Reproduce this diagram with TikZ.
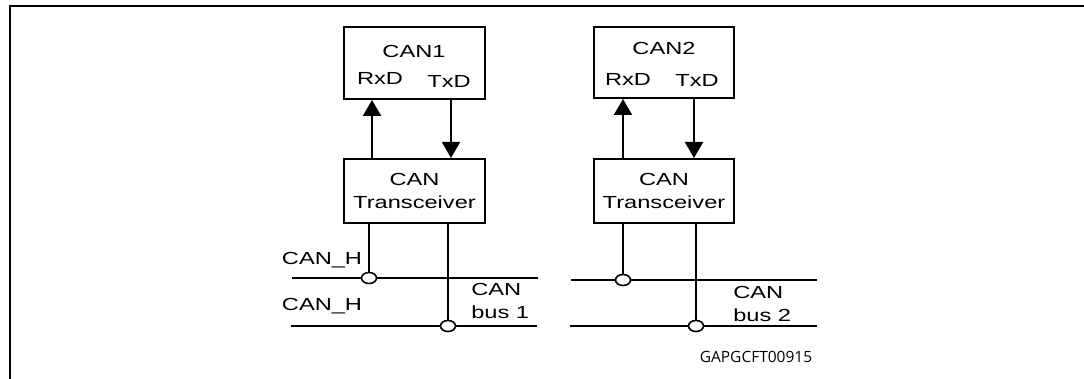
\documentclass[tikz,border=0pt]{standalone}
\usepackage{fontspec}
\setmainfont{Liberation Sans}
\newfontfamily\codefont{Open Sans}
\usetikzlibrary{arrows.meta,shapes.geometric}

\tikzset{
  unit/.style={draw, line width=2pt, minimum width=141pt, inner sep=0pt},
  txt/.style={font=\fontsize{17.5}{23}\selectfont, xscale=1.35, inner sep=0pt, align=center},
  lbl/.style={txt, text height=12.5pt, text depth=0pt},
  sig/.style={line width=2pt, -{Triangle[width=18pt,length=16pt]}},
  wire/.style={line width=2pt},
  tap/.style={ellipse, draw, fill=white, line width=1.6pt, minimum width=15pt, minimum height=11pt, inner sep=0pt}
}

\begin{document}
\begin{tikzpicture}[x=1pt, y=-1pt]
    \useasboundingbox (0,0) rectangle (1084,379);

    % 1. frame
    \draw[line width=2.5pt] (1084,6) -- (10,6) -- (10,379);

    % 2. controllers and transceivers
    \node[unit, minimum height=72pt] (can1) at (414.5,63) {};
    \node[unit, minimum height=64pt] (trx1) at (414.5,191) {};
    \node[unit, minimum width=140pt, minimum height=71pt] (can2) at (664,62.5) {};
    \node[unit, minimum width=140pt, minimum height=64pt] (trx2) at (664,191) {};

    \node[lbl] (can1t) at (414,51) {CAN1};
    \node[lbl] (rx1) at (380,78) {RxD};
    \node[lbl] (tx1) at (449,81) {TxD};
    \node[lbl] (can2t) at (664,48) {CAN2};
    \node[lbl] (rx2) at (628,79) {RxD};
    \node[lbl] (tx2) at (697,80) {TxD};
    \node[txt] (trx1t) at (trx1) {CAN\\Transceiver};
    \node[txt] (trx2t) at (trx2) {CAN\\Transceiver};

    % 3. RxD / TxD signals
    \draw[sig] ([xshift=-42.5pt]trx1.north) -- ([xshift=-42.5pt]can1.south);
    \draw[sig] ([xshift=36.5pt]can1.south) -- ([xshift=36.5pt]trx1.north);
    \draw[sig] ([xshift=-41pt]trx2.north) -- ([xshift=-41pt]can2.south);
    \draw[sig] ([xshift=30pt]can2.south) -- ([xshift=30pt]trx2.north);

    % 4. bus lines
    \coordinate (h1a) at (292,278);
    \coordinate (h1b) at (538,278);
    \coordinate (l1a) at (291,326);
    \coordinate (l1b) at (537,326);
    \coordinate (h2a) at (571,280);
    \coordinate (h2b) at (817,280);
    \coordinate (l2a) at (570,326);
    \coordinate (l2b) at (817,326);
    \draw[wire] (h1a) -- (h1b);
    \draw[wire] (l1a) -- (l1b);
    \draw[wire] (h2a) -- (h2b);
    \draw[wire] (l2a) -- (l2b);

    % taps on the bus
    \draw[wire] (trx1.south -| 369,0) -- (369,278);
    \draw[wire] (trx1.south -| 448,0) -- (448,326);
    \draw[wire] (trx2.south -| 623,0) -- (623,280);
    \draw[wire] (trx2.south -| 696,0) -- (696,326);
    \node[tap] (tap1h) at (369,278) {};
    \node[tap] (tap1l) at (448,326) {};
    \node[tap] (tap2h) at (623,280) {};
    \node[tap] (tap2l) at (696,326) {};

    % 5. labels
    \node[lbl] (hlbl1) at (322,258) {CAN\_H};
    \node[lbl] (hlbl2) at (322,304) {CAN\_H};
    \node[txt, align=left, anchor=west] (bus1) at (471,301) {CAN\\bus 1};
    \node[txt, align=left, anchor=west] (bus2) at (733,303.5) {CAN\\bus 2};
    \node[inner sep=0pt, font=\codefont\fontsize{15.5}{18}\selectfont] (figid) at (756,357) {GAPGCFT00915};
\end{tikzpicture}
\end{document}
